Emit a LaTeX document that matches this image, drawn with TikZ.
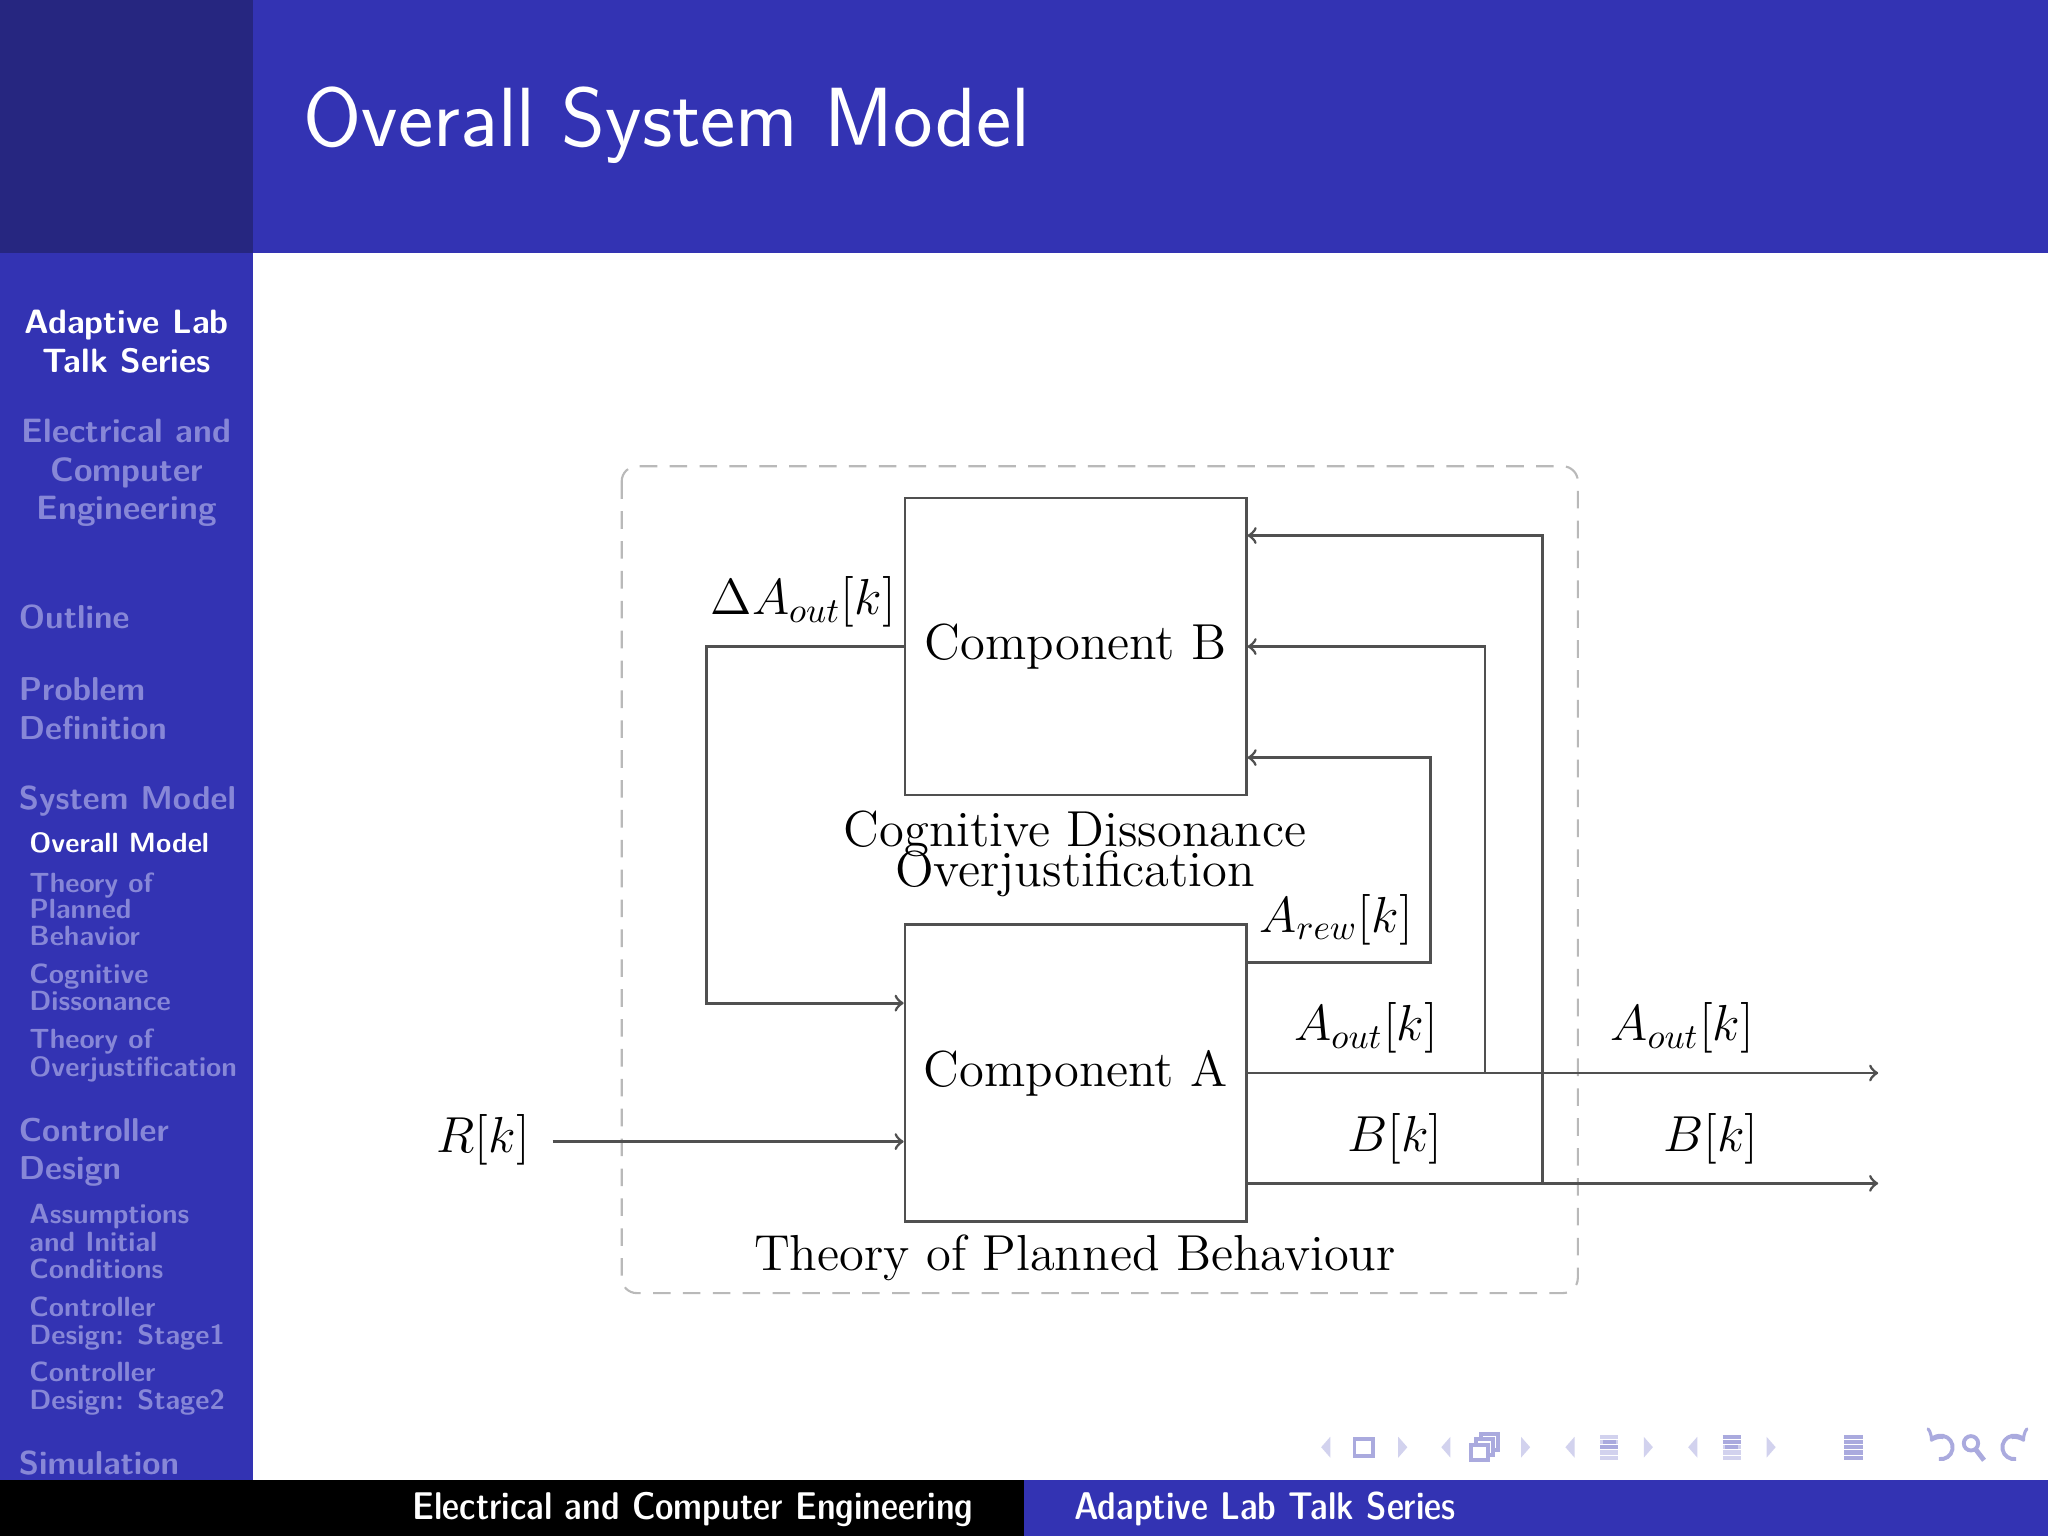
\documentclass[tikz,border=0pt]{standalone}
\usetikzlibrary{positioning,calc}

\definecolor{barblue}{RGB}{51,51,179}
\definecolor{cornerblue}{RGB}{38,38,128}
\definecolor{fadeblue}{RGB}{135,135,215}
\definecolor{navcol}{RGB}{170,170,222}
\definecolor{navlight}{RGB}{210,210,238}
\definecolor{wire}{RGB}{80,80,80}

\tikzset{
  block/.style={draw=wire, line width=0.8pt, minimum width=3.41cm, minimum height=2.97cm, font=\fontsize{14.4}{17}\selectfont},
  lbl/.style={font=\fontsize{14.4}{17}\selectfont},
  wires/.style={draw=wire, line width=0.8pt},
  sidehead/.style={anchor=base, text=white, inner sep=0, font=\sffamily\bfseries\fontsize{9.6}{11}\selectfont},
  sec/.style={anchor=base west, text=fadeblue, inner sep=0, font=\sffamily\bfseries\fontsize{9.4}{11}\selectfont},
  subsec/.style={anchor=base west, text=fadeblue, inner sep=0, font=\sffamily\bfseries\fontsize{7.9}{9}\selectfont},
  foot/.style={text=white, inner sep=0, font=\sffamily\fontseries{sbc}\fontsize{11}{13}\selectfont},
}

\begin{document}
\begin{tikzpicture}[x=0.1306mm, y=-0.1306mm]
        % frame of the slide
        \fill[white] (0,0) rectangle (1568,1176);
        \useasboundingbox (0,0) rectangle (1568,1176);
        \fill[cornerblue] (0,0) rectangle (194,194);
        \fill[barblue] (194,0) rectangle (1568,194);
        \fill[barblue] (0,194) rectangle (194,1133);
        \fill[black] (0,1133) rectangle (784,1176);
        \fill[barblue] (784,1133) rectangle (1568,1176);
        \node[anchor=base west, text=white, inner sep=0, font=\sffamily\fontsize{23.9}{28}\selectfont] (title) at (232,112) {Overall System Model};

        % sidebar
        \foreach \yy/\txt in {255/Adaptive Lab, 285/Talk Series}
          \node[sidehead] (hd\yy) at (97,\yy) {\txt};
        \foreach \yy/\txt in {339/Electrical and, 369/Computer, 398/Engineering}
          \node[sidehead, text=fadeblue] (dep\yy) at (97,\yy) {\txt};
        \foreach \yy/\txt in {481/Outline, 536/Problem, 566/Definition, 620/System Model, 874/Controller, 903/Design, 1129/Simulation}
          \node[sec] (sec\yy) at (14,\yy) {\txt};
        \node[subsec, text=white] (sub653) at (22,653) {Overall Model};
        \foreach \yy/\txt in {683/Theory of, 703/Planned, 724/Behavior, 753/Cognitive, 774/Dissonance, 803/Theory of, 824/Overjustification, 937/Assumptions, 958/and Initial, 979/Conditions, 1008/Controller, 1029/Design: Stage1, 1058/Controller, 1079/Design: Stage2}
          \node[subsec] (sub\yy) at (22,\yy) {\txt};
        \fill[black] (0,1133) rectangle (194,1176);

        % footline
        \node[foot, anchor=base east] (footl) at (746,1163) {Electrical and Computer Engineering};
        \node[foot, anchor=base west] (footr) at (822,1163) {Adaptive Lab Talk Series};

        % navigation symbols
        \foreach \xx in {1015,1107,1202,1296}
          \fill[navlight] (\xx+3.5,1100) -- (\xx-3.5,1108) -- (\xx+3.5,1116) -- cycle;
        \foreach \xx in {1074,1168,1262,1356}
          \fill[navlight] (\xx-3.5,1100) -- (\xx+3.5,1108) -- (\xx-3.5,1116) -- cycle;
        \draw[navcol, line width=1.1pt] (1037,1102) rectangle (1051,1115);
        \foreach \dd in {8,4,0}
          \draw[navcol, fill=white, line width=1.1pt] (1126+\dd,1106-\dd) rectangle (1139+\dd,1118-\dd);
        \foreach \xx in {1232,1326}
          \foreach \yy in {1100,1104,1108,1112,1116}
            \draw[navlight, line width=1.2pt] (\xx-7,\yy) -- (\xx+7,\yy);
        \draw[navcol, line width=1.2pt] (1225,1108) -- (1239,1108) (1227,1104) -- (1237,1104);
        \draw[navcol, line width=1.2pt] (1319,1100) -- (1333,1100) (1319,1104) -- (1333,1104) (1321,1108) -- (1331,1108);
        \foreach \yy in {1100,1104,1108,1112,1116}
          \draw[navcol, line width=1.2pt] (1412,\yy) -- (1426,\yy);
        \draw[navcol, line width=1.1pt, ->] (1484.4,1117) arc (100:-150:9);
        \draw[navcol, line width=1.1pt] (1509,1105) circle (5.5);
        \draw[navcol, line width=1.4pt] (1512.5,1109.5) -- (1519,1118);
        \draw[navcol, line width=1.1pt, ->] (1543.6,1117) arc (80:330:9);

        % diagram
        \draw[gray!55, line width=0.6pt, dash pattern=on 5pt off 3.5pt, rounded corners=1.5mm] (476,357) rectangle (1208,990);
        \node[block] (compB) at (823.5,495) {Component B};
        \node[block] (compA) at (823.5,821.5) {Component A};
        \node[lbl, anchor=base] (cdlbl) at (823,648) {Cognitive Dissonance};
        \node[lbl, anchor=base] (ojlbl) at (823,679) {Overjustification};
        \node[lbl, anchor=base] (tpblbl) at (823,973) {Theory of Planned Behaviour};

        \coordinate (fbL) at (541,768);
        \draw[wires, ->] (compB.west) -| (fbL) -- (compA.west |- fbL);
        \node[lbl] (dalbl) at (615,461) {$\Delta A_{out}[k]$};

        \coordinate (rin) at (423,874);
        \node[lbl] (rk) at (370,873) {$R[k]$};
        \draw[wires, ->] (rin) -- (compA.west |- rin);

        \coordinate (rewR) at (1095,737);
        \coordinate (rewT) at (1095,580);
        \draw[wires, ->] (compA.east |- rewR) -- (rewR) -- (rewT) -- (compB.east |- rewT);
        \node[lbl] (rewlbl) at (1023,704) {$A_{rew}[k]$};

        \coordinate (aoutE) at (1438,821.5);
        \coordinate (aoutJ) at (1137,821.5);
        \draw[wires, ->] (compA.east) -- (aoutE);
        \draw[wires, ->] (aoutJ) |- (compB.east);
        \node[lbl] (aoutin) at (1046,787) {$A_{out}[k]$};
        \node[lbl] (aoutout) at (1288,787) {$A_{out}[k]$};

        \coordinate (boutE) at (1438,906);
        \coordinate (boutJ) at (1181,906);
        \coordinate (boutT) at (1181,410);
        \draw[wires, ->] (compA.east |- boutE) -- (boutE);
        \draw[wires, ->] (boutJ) -- (boutT) -- (compB.east |- boutT);
        \node[lbl] (bin) at (1068,872) {$B[k]$};
        \node[lbl] (bout) at (1310,872) {$B[k]$};
      \end{tikzpicture}
\end{document}
